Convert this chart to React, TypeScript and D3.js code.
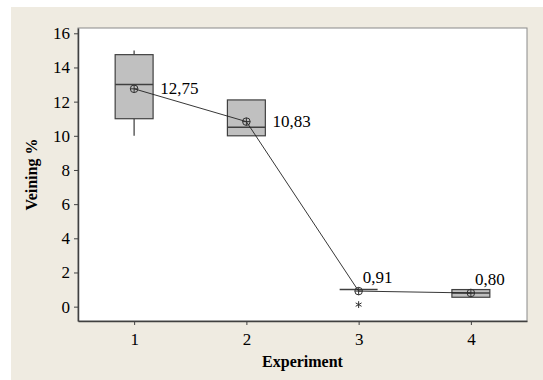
import React, { useEffect, useRef } from 'react';
import * as d3 from 'd3';

// Box plot summaries
const experiments = [1, 2, 3, 4];
const q1 = [11.0, 10.0, 1.0, 0.55];
const q3 = [14.75, 12.1, 1.0, 1.0];
const medians = [13.0, 10.5, 1.0, 0.8];
const whiskerLow = [10.0, 10.0, 1.0, 0.55];
const whiskerHigh = [15.0, 12.1, 1.0, 1.0];
const means = [12.75, 10.83, 0.91, 0.8];
const meanLabels = ['12,75', '10,83', '0,91', '0,80'];
const outliers = [{ exp: 3, value: 0.12 }];
const yTicks = [0, 2, 4, 6, 8, 10, 12, 14, 16];

const W = 543;
const H = 380;

const App = () => {
  const svgRef = useRef<SVGSVGElement>(null);

  useEffect(() => {
    const svg = d3.select(svgRef.current);
    svg.selectAll('*').remove();

    const font = '"Liberation Serif", "Times New Roman", serif';
    const margin = { top: 28, right: 16, bottom: 59, left: 78 };
    const innerW = W - margin.left - margin.right;
    const innerH = H - margin.top - margin.bottom;

    // background
    svg.append('rect').attr('x', 0).attr('y', 0).attr('width', W).attr('height', H).attr('fill', '#ffffff');
    svg.append('rect').attr('x', 11).attr('y', 7).attr('width', W - 11).attr('height', H - 7).attr('fill', '#efebe1');

    const g = svg.append('g').attr('transform', `translate(${margin.left},${margin.top})`);

    const x = d3.scaleLinear().domain([0.5, 4.5]).range([0, innerW]);
    const y = d3.scaleLinear().domain([-0.84, 16.31]).range([innerH, 0]);

    g.append('rect')
      .attr('width', innerW)
      .attr('height', innerH)
      .attr('fill', '#ffffff')
      .attr('stroke', '#8a8a8a')
      .attr('stroke-width', 1);

    // axes
    const yAxis = g.append('g')
      .call(d3.axisLeft(y).tickValues(yTicks).tickSize(4).tickSizeOuter(0).tickFormat(d3.format('d')));
    const xAxis = g.append('g').attr('transform', `translate(0,${innerH})`)
      .call(d3.axisBottom(x).tickValues(experiments).tickSize(4).tickSizeOuter(0).tickFormat(d3.format('d')));
    [yAxis, xAxis].forEach(ax => {
      ax.attr('font-family', font).attr('font-size', 17);
      ax.select('.domain').attr('stroke', '#404040').attr('stroke-width', 1.5);
      ax.selectAll('line').attr('stroke', '#404040');
      ax.selectAll('text').attr('font-family', font).attr('font-size', 17).attr('fill', '#000');
    });
    yAxis.selectAll('text').attr('x', -8);
    xAxis.selectAll('text').attr('y', 12);

    const boxW = x(1.169) - x(1);

    experiments.forEach((e, i) => {
      const cx = x(e);
      // whiskers
      g.append('line').attr('x1', cx).attr('x2', cx)
        .attr('y1', y(whiskerHigh[i])).attr('y2', y(q3[i]))
        .attr('stroke', '#606060').attr('stroke-width', 1.5);
      g.append('line').attr('x1', cx).attr('x2', cx)
        .attr('y1', y(whiskerLow[i])).attr('y2', y(q1[i]))
        .attr('stroke', '#606060').attr('stroke-width', 1.5);
      // box
      g.append('rect')
        .attr('x', cx - boxW).attr('y', y(q3[i]))
        .attr('width', boxW * 2).attr('height', Math.max(0, y(q1[i]) - y(q3[i])))
        .attr('fill', '#c0c0c0').attr('stroke', '#404040').attr('stroke-width', 1.2);
      g.append('line').attr('x1', cx - boxW).attr('x2', cx + boxW)
        .attr('y1', y(medians[i])).attr('y2', y(medians[i]))
        .attr('stroke', '#404040').attr('stroke-width', 1.5);
    });

    // outliers as small asterisks
    outliers.forEach(o => {
      g.append('path')
        .attr('transform', `translate(${x(o.exp)},${y(o.value)})`)
        .attr('d', d3.symbol(d3.symbolAsterisk, 32)())
        .attr('fill', 'none').attr('stroke', '#303030').attr('stroke-width', 1);
    });

    // mean connect line
    g.append('path')
      .datum(means)
      .attr('fill', 'none').attr('stroke', '#202020').attr('stroke-width', 0.9)
      .attr('d', d3.line<number>().x((_, i) => x(experiments[i])).y(d => y(d)));

    // mean symbols
    experiments.forEach((e, i) => {
      const cx = x(e);
      const cy = y(means[i]);
      g.append('circle').attr('cx', cx).attr('cy', cy).attr('r', 3.8)
        .attr('fill', 'none').attr('stroke', '#303030').attr('stroke-width', 1);
      g.append('path').attr('d', `M${cx - 3.8},${cy}H${cx + 3.8}M${cx},${cy - 3.8}V${cy + 3.8}`)
        .attr('stroke', '#303030').attr('stroke-width', 1);
    });

    // mean labels: first two to the right, last two above
    meanLabels.forEach((t, i) => {
      const right = i < 2;
      g.append('text')
        .attr('x', x(experiments[i]) + (right ? 26 : 4))
        .attr('y', y(means[i]) + (right ? 5 : -8))
        .attr('font-family', font).attr('font-size', 17).attr('fill', '#000')
        .text(t);
    });

    // axis titles
    svg.append('text')
      .attr('x', margin.left + innerW / 2).attr('y', 367)
      .attr('text-anchor', 'middle').attr('font-family', font).attr('font-size', 16)
      .attr('font-weight', 'bold').text('Experiment');
    svg.append('text')
      .attr('transform', `translate(37,${margin.top + innerH / 2}) rotate(-90)`)
      .attr('text-anchor', 'middle').attr('font-family', font).attr('font-size', 16)
      .attr('font-weight', 'bold').text('Veining %');
  }, []);

  return (
    <svg ref={svgRef} width={W} height={H}
      style={{ position: 'absolute', left: 0, top: 0, display: 'block' }} />
  );
};

export default App;
